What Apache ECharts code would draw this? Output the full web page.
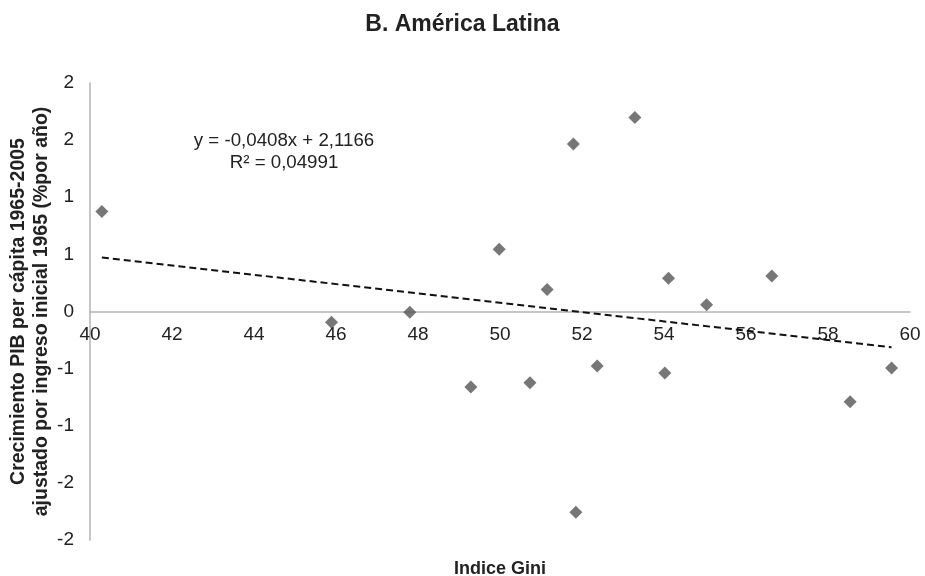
<!DOCTYPE html>
<html>
<head>
<meta charset="utf-8">
<script src="https://cdn.jsdelivr.net/npm/echarts@6/dist/echarts.min.js"></script>
<style>
  html, body { margin: 0; padding: 0; background: #fff; }
  #chart { width: 925px; height: 576px; }
</style>
</head>
<body>
<div id="chart"></div>
<script>
// Gini index (x) and adjusted GDP per capita growth (y), one point per country
const giniIndex = [40.29, 45.89, 47.80, 49.29, 49.98, 50.73, 51.15, 51.79, 51.85, 52.37, 53.29, 54.02, 54.11, 55.04, 56.63, 58.54, 59.55];
const growthRate = [0.876, -0.093, -0.006, -0.661, 0.544, -0.623, 0.192, 1.465, -1.758, -0.477, 1.697, -0.539, 0.291, 0.058, 0.311, -0.789, -0.495];

// Linear trend: y = slope * x + intercept
const trendSlope = -0.0408;
const trendIntercept = 2.1166;
const trendLabel = ['y = -0,0408x + 2,1166', 'R² = 0,04991'];

const titleText = 'B. América Latina';
const xAxisTitle = 'Indice Gini';
const yAxisTitle = 'Crecimiento PIB per cápita 1965-2005\najustado por ingreso inicial 1965 (%por año)';

const points = giniIndex.map((g, i) => [g, growthRate[i]]);
const xLo = Math.min(...giniIndex);
const xHi = Math.max(...giniIndex);
const trendPoints = [xLo, xHi].map(x => [x, trendSlope * x + trendIntercept]);

const FONT = '"Liberation Sans", Arial, Helvetica, sans-serif';

// Plot area
const GRID = { left: 90, right: 15, top: 83, bottom: 36 };
const PLOT_H = 576 - GRID.top - GRID.bottom;
const Y_MIN = -2, Y_MAX = 2;
// Lift the horizontal axis from the bottom edge up to y = 0
const zeroLift = -PLOT_H * (0 - Y_MIN) / (Y_MAX - Y_MIN);

// Whole-number labels, rounded half away from zero
function roundLabel(v) {
  if (v === 0) return '0';
  return (v < 0 ? '-' : '') + Math.round(Math.abs(v));
}

const chart = echarts.init(document.getElementById('chart'), null, { renderer: 'canvas' });
chart.setOption({
  animation: false,
  backgroundColor: '#ffffff',
  title: {
    text: titleText,
    left: 'center',
    top: 8,
    textStyle: { fontFamily: FONT, fontSize: 23, fontWeight: 'bold', color: '#222' }
  },
  grid: Object.assign({ containLabel: false, outerBoundsMode: 'none' }, GRID),
  xAxis: {
    type: 'value',
    min: 40,
    max: 60,
    interval: 2,
    offset: zeroLift,
    name: xAxisTitle,
    nameLocation: 'middle',
    nameGap: 249,
    nameMoveOverlap: false,
    nameTextStyle: { fontFamily: FONT, fontSize: 18, fontWeight: 'bold', color: '#222' },
    axisLine: { show: true, onZero: false, lineStyle: { color: '#b3b3b3', width: 1.5 } },
    axisTick: { show: false },
    splitLine: { show: false },
    axisLabel: { fontFamily: FONT, fontSize: 19, color: '#222', margin: 14 }
  },
  yAxis: {
    type: 'value',
    min: Y_MIN,
    max: Y_MAX,
    interval: 0.5,
    name: yAxisTitle,
    nameLocation: 'middle',
    nameGap: 37,
    nameMoveOverlap: false,
    nameTextStyle: { fontFamily: FONT, fontSize: 19.5, fontWeight: 'bold', color: '#222', lineHeight: 23 },
    axisLine: { show: true, onZero: false, lineStyle: { color: '#b3b3b3', width: 1.5 } },
    axisTick: { show: false },
    splitLine: { show: false },
    axisLabel: { fontFamily: FONT, fontSize: 19, color: '#222', margin: 16, formatter: roundLabel }
  },
  graphic: [
    {
      type: 'text',
      x: 284,
      y: 130,
      style: {
        text: trendLabel.join('\n'),
        font: '18.7px ' + FONT,
        fill: '#222',
        align: 'center',
        lineHeight: 22
      }
    }
  ],
  series: [
    {
      type: 'line',
      data: trendPoints,
      showSymbol: false,
      silent: true,
      lineStyle: { color: '#111', width: 2, type: [7, 4] },
      z: 2
    },
    {
      type: 'scatter',
      data: points,
      symbol: 'diamond',
      symbolSize: 13,
      itemStyle: { color: '#555555' },
      z: 3
    }
  ]
});
</script>
</body>
</html>
